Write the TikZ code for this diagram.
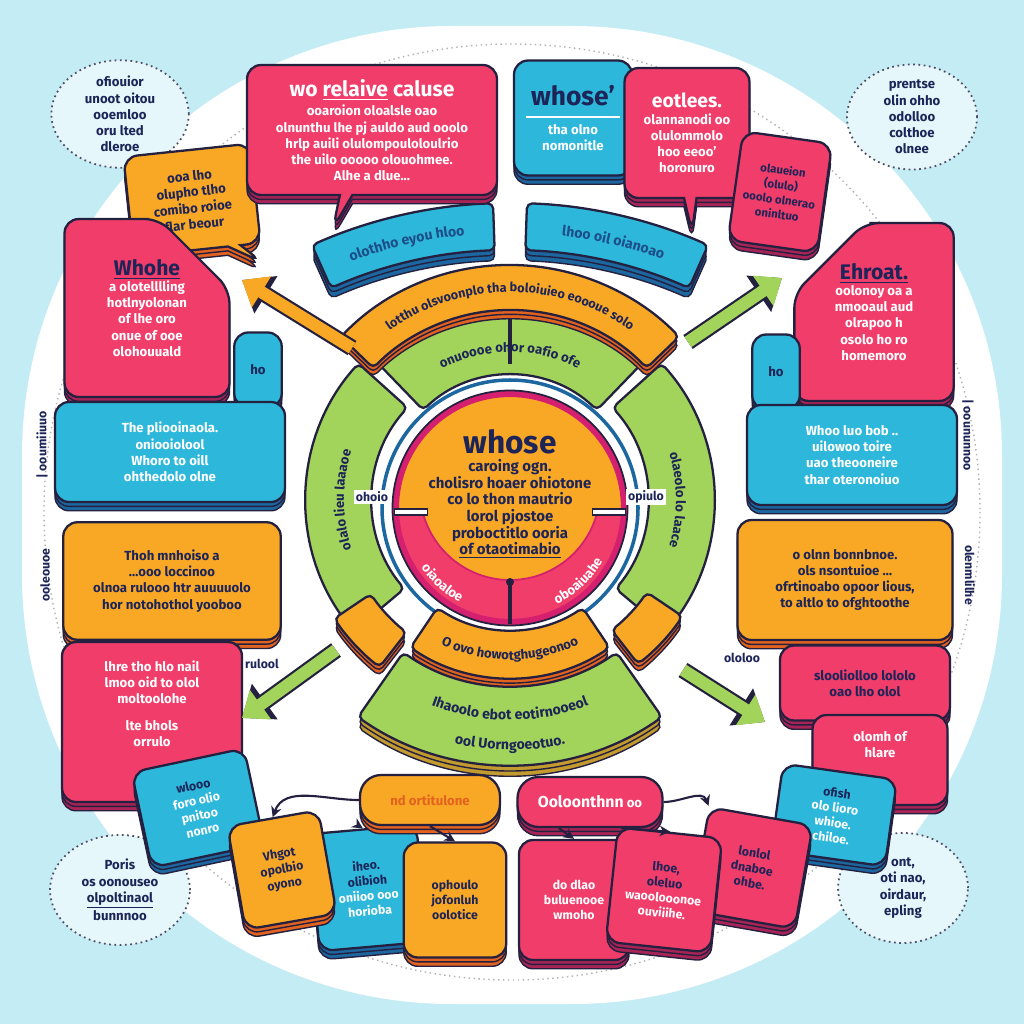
\documentclass[tikz,border=0pt]{standalone}
\usepackage{fontspec}
\setmainfont{Fira Sans}
\usetikzlibrary{shapes.geometric, shapes.misc, shapes.callouts, arrows.meta, positioning, shadows, decorations.text, calc}
\definecolor{skyback}{HTML}{C4ECF4}
\definecolor{notefill}{HTML}{E6F7FB}
\definecolor{inkline}{HTML}{24203F}
\definecolor{inktext}{HTML}{1C2458}
\definecolor{bandtext}{HTML}{1D4E89}
\definecolor{cardred}{HTML}{F03D6A}
\definecolor{cardredd}{HTML}{A82456}
\definecolor{cardblue}{HTML}{2DB7DA}
\definecolor{cardblued}{HTML}{1D67A0}
\definecolor{cardorange}{HTML}{F9A826}
\definecolor{cardoranged}{HTML}{E2621F}
\definecolor{cardgreen}{HTML}{A2D35A}
\definecolor{cardgreend}{HTML}{C29A2E}
\definecolor{ringmag}{HTML}{D4206E}

\begin{document}
\begin{tikzpicture}[x=0.02cm, y=-0.02cm,
  card/.style={draw=inkline, line width=1.3pt, rounded corners=8pt, align=center, font=\bfseries\fontsize{7.5}{9.2}\selectfont, inner sep=3pt},
  redcard/.style={card, fill=cardred, text=white, double copy shadow={shadow xshift=0pt, shadow yshift=-2.5pt, fill=cardredd, draw=inkline, line width=0.8pt}},
  bluecard/.style={card, fill=cardblue, text=white, double copy shadow={shadow xshift=0pt, shadow yshift=-2.5pt, fill=cardblued, draw=inkline, line width=0.8pt}},
  orangecard/.style={card, fill=cardorange, text=inktext, double copy shadow={shadow xshift=0pt, shadow yshift=-2.5pt, fill=cardoranged, draw=inkline, line width=0.8pt}},
  smallcard/.style={font=\bfseries\fontsize{7}{8.6}\selectfont},
  band/.style={draw=inkline, line width=1.3pt, rounded corners=3pt},
  notebub/.style={ellipse, draw=inkline!80, dotted, line width=1pt, fill=notefill, align=center, text=inktext, font=\bfseries\fontsize{7.5}{9.2}\selectfont, inner sep=0pt},
  sidelabel/.style={text=inktext, font=\bfseries\fontsize{7}{8}\selectfont},
  bigarr/.style={line width=7pt, draw=#1, -{Triangle[length=13pt, width=20pt]}, preaction={draw=inkline, line width=9.5pt, -{Triangle[length=16pt, width=24pt]}}},
  smallarr/.style={draw=inkline, line width=1.2pt, -{Stealth[length=6pt, width=6pt]}},
  arctext/.style={decorate, decoration={text along path, text align=center, text={#1}}},
]
% --- backdrop ---
\fill[skyback] (0,0) rectangle (1024,1024);
\useasboundingbox (0,0) rectangle (1024,1024);
\fill[white, rounded corners=8.6cm] (22,26) rectangle (1002,1004);
\draw[gray!60, dotted, line width=0.8pt] (512,512) circle (468);

% --- corner notes ---
\node[notebub, minimum width=2.75cm, minimum height=2.15cm] (noteNW) at (120,114) {ofiouior\\ unoot oitou\\ ooemloo\\ oru lted\\ dleroe};
\node[notebub, minimum width=2.6cm, minimum height=2.1cm] (noteNE) at (912,117) {prentse\\ olin ohho\\ odolloo\\ colthoe\\ olnee};
\node[notebub, minimum width=2.8cm, minimum height=2.2cm] (noteSW) at (120,890) {Poris\\ os oonouseo\\ \underline{olpoltinaol}\\ bunnnoo};
\node[notebub, minimum width=2.6cm, minimum height=2.2cm] (noteSE) at (903,888) {ont,\\ oti nao,\\ oirdaur,\\ epling};

% --- rings round the hub ---
\coordinate (hub) at (510,500);
\coordinate (core) at (510,508);
\coordinate (arch) at (510,690);
\filldraw[band, fill=cardgreen] ([shift={(hub)}]140:138) arc[start angle=140, end angle=222, radius=138] -- ([shift={(hub)}]222:204) arc[start angle=222, end angle=140, radius=204] -- cycle;
\filldraw[band, fill=cardgreen] ([shift={(hub)}]-42:138) arc[start angle=-42, end angle=40, radius=138] -- ([shift={(hub)}]40:204) arc[start angle=40, end angle=-42, radius=204] -- cycle;
\filldraw[band, fill=cardgreen] ([shift={(hub)}]-134:125) arc[start angle=-134, end angle=-46, radius=125] -- ([shift={(hub)}]-46:200) arc[start angle=-46, end angle=-134, radius=200] -- cycle;
\draw[inkline, line width=2pt] (510,312) -- (510,364);
\path[arctext={|\bfseries\fontsize{7.5}{9}\selectfont\color{inktext}|onuoooe ohor oafio ofe}] ([shift={(hub)}]-128:148) arc[start angle=-128, end angle=-52, radius=148];
\path[arctext={|\bfseries\fontsize{7.5}{9}\selectfont\color{inktext}|olalo lieu laaaoe}] ([shift={(hub)}]145:166) arc[start angle=145, end angle=215, radius=166];
\path[arctext={|\bfseries\fontsize{7.5}{9}\selectfont\color{inktext}|olaeolo lo laace}] ([shift={(hub)}]-35:166) arc[start angle=-35, end angle=35, radius=166];
\draw[cardblued, line width=2pt] (core) circle (128);

% --- top bands ---
\filldraw[band, fill=cardorange, double copy shadow={shadow xshift=0pt, shadow yshift=-2.5pt, fill=cardoranged, draw=inkline, line width=0.8pt}] ([shift={(hub)}]-136:235) arc[start angle=-136, end angle=-44, radius=235] -- ([shift={(hub)}]-44:190) arc[start angle=-44, end angle=-136, radius=190] -- cycle;
\path[arctext={|\bfseries\fontsize{7.2}{9}\selectfont\color{inktext}|lotthu olsvoonplo tha boloiuieo eoooue solo}] ([shift={(hub)}]-136:208) arc[start angle=-136, end angle=-44, radius=208];
\filldraw[band, fill=cardblue, double copy shadow={shadow xshift=0pt, shadow yshift=-3pt, fill=cardblued, draw=inkline, line width=0.8pt}] ([shift={(arch)}]-114:487) arc[start angle=-114, end angle=-92, radius=487] -- ([shift={(arch)}]-92:440) arc[start angle=-92, end angle=-114, radius=440] -- cycle;
\filldraw[band, fill=cardblue, double copy shadow={shadow xshift=0pt, shadow yshift=-3pt, fill=cardblued, draw=inkline, line width=0.8pt}] ([shift={(arch)}]-88:487) arc[start angle=-88, end angle=-66, radius=487] -- ([shift={(arch)}]-66:440) arc[start angle=-66, end angle=-88, radius=440] -- cycle;
\path[arctext={|\bfseries\fontsize{8}{9}\selectfont\color{bandtext}|olothho eyou hloo}] ([shift={(arch)}]-113:457) arc[start angle=-113, end angle=-93, radius=457];
\path[arctext={|\bfseries\fontsize{8}{9}\selectfont\color{bandtext}|lhoo oil oianoao}] ([shift={(arch)}]-87:457) arc[start angle=-87, end angle=-67, radius=457];

% --- bottom bands ---
\filldraw[band, fill=cardorange, double copy shadow={shadow xshift=0pt, shadow yshift=-2.5pt, fill=cardoranged, draw=inkline, line width=0.8pt}] ([shift={(hub)}]124:130) arc[start angle=124, end angle=56, radius=130] -- ([shift={(hub)}]56:178) arc[start angle=56, end angle=124, radius=178] -- cycle;
\path[arctext={|\bfseries\fontsize{7.5}{9}\selectfont\color{inktext}|O ovo howotghugeonoo}] ([shift={(hub)}]122:160) arc[start angle=122, end angle=58, radius=160];
\filldraw[band, fill=cardgreen, double copy shadow={shadow xshift=0pt, shadow yshift=-3pt, fill=cardgreend, draw=inkline, line width=0.8pt}] ([shift={(hub)}]125:186) arc[start angle=125, end angle=55, radius=186] -- ([shift={(hub)}]55:265) arc[start angle=55, end angle=125, radius=265] -- cycle;
\path[arctext={|\bfseries\fontsize{8}{9}\selectfont\color{inktext}|Ihaoolo ebot eotirnooeol}] ([shift={(hub)}]120:220) arc[start angle=120, end angle=60, radius=220];
\path[arctext={|\bfseries\fontsize{8}{9}\selectfont\color{inktext}|ool Uorngoeotuo.}] ([shift={(hub)}]112:250) arc[start angle=112, end angle=68, radius=250];
\filldraw[band, fill=cardorange, double copy shadow={shadow xshift=0pt, shadow yshift=-2.5pt, fill=cardoranged, draw=inkline, line width=0.8pt}] ([shift={(hub)}]128:168) arc[start angle=128, end angle=146, radius=168] -- ([shift={(hub)}]146:212) arc[start angle=146, end angle=128, radius=212] -- cycle;
\filldraw[band, fill=cardorange, double copy shadow={shadow xshift=0pt, shadow yshift=-2.5pt, fill=cardoranged, draw=inkline, line width=0.8pt}] ([shift={(hub)}]34:165) arc[start angle=34, end angle=52, radius=165] -- ([shift={(hub)}]52:208) arc[start angle=52, end angle=34, radius=208] -- cycle;

% --- core ---
\fill[cardred] (core) circle (116);
\fill[cardorange] ([shift={(core)}]180:116) arc[start angle=180, end angle=360, radius=116] -- cycle;
\fill[cardorange] (510,490) circle (90);
\draw[ringmag, line width=1pt] ([shift={(510,490)}]14:90) arc[start angle=14, end angle=166, radius=90];
\draw[ringmag, line width=3.5pt] (core) circle (114);
\draw[inkline, line width=1pt] (core) circle (117.5);
\draw[inkline, line width=4.5pt] (394,512) -- (428,512);
\draw[white, line width=2.2pt] (395,512) -- (427,512);
\draw[inkline, line width=4.5pt] (592,512) -- (626,512);
\draw[white, line width=2.2pt] (593,512) -- (625,512);
\draw[inkline, line width=2.5pt] (510,580) -- (510,624);
\fill[inkline] (510,582) circle (4);
\path[arctext={|\bfseries\fontsize{7.5}{9}\selectfont\color{white}|oiaoaloe}] ([shift={(core)}]162:107) arc[start angle=162, end angle=102, radius=107];
\path[arctext={|\bfseries\fontsize{7.5}{9}\selectfont\color{white}|oboaiuahe}] ([shift={(core)}]78:107) arc[start angle=78, end angle=16, radius=107];
\node[align=center, text=inktext, font=\bfseries\fontsize{8.5}{9.4}\selectfont] (coretext) at (510,494) {{\fontsize{18}{19}\selectfont whose}\\[1pt] caroing ogn.\\ cholisro hoaer ohiotone\\ co lo thon mautrio\\ lorol pjostoe\\ proboctitlo ooria\\ \underline{of otaotimabio}};
\node[sidelabel, fill=white, inner sep=1pt] (lblL) at (372,497) {ohoio};
\node[sidelabel, fill=white, inner sep=1pt] (lblR) at (646,497) {opiulo};

% --- top row ---
\node[orangecard, rectangle callout, callout absolute pointer={(262,262)}, rotate=6, minimum width=2.55cm, minimum height=2cm] (orangeTL) at (192,200) {ooa lho\\ olupho tlho\\ comibo roioe\\ flar beour};
\node[redcard, rectangle callout, callout absolute pointer={(333,228)}, minimum width=5cm, minimum height=2.6cm] (redTop) at (372,130) {{\fontsize{12}{13}\selectfont wo \underline{relaive} caluse}\\[2pt] ooaroion oloalsle oao\\ olnunthu lhe pj auldo aud ooolo\\ hrlp auili olulompouloloulrio\\ the uilo ooooo olouohmee.\\ Alhe a dlue...};
\node[bluecard, minimum width=2.36cm, minimum height=2.3cm] (blueWhose) at (573,118) {{\color{inktext}\fontsize{15}{16}\selectfont whose'}\\[-2pt] \rule{1.9cm}{1.2pt}\\ tha olno\\ nomonitle};
\node[redcard, rectangle callout, callout absolute pointer={(692,232)}, minimum width=2.5cm, minimum height=2.6cm] (redEot) at (687,133) {{\fontsize{11}{12}\selectfont eotlees.}\\ olannanodi oo\\ olulommolo\\ hoo eeoo'\\ horonuro};
\node[redcard, text=inktext, rotate=-8, minimum width=1.8cm, minimum height=2.2cm, font=\bfseries\fontsize{6.5}{8.5}\selectfont] (redSmall) at (780,192) {olaueion\\ (olulo)\\ ooolo olnerao\\ oninltuo};

% --- side cards ---
\node[redcard, chamfered rectangle, chamfered rectangle corners=north east, chamfered rectangle xsep=20pt, chamfered rectangle ysep=20pt, minimum width=3.3cm, minimum height=3.2cm] (redWhohe) at (147,308) {{\color{inktext}\fontsize{12}{13}\selectfont \underline{Whohe}}\\ a olotelllling\\ hotlnyolonan\\ of lhe oro\\ onue of ooe\\ olohouuald};
\node[redcard, chamfered rectangle, chamfered rectangle corners=north west, chamfered rectangle xsep=20pt, chamfered rectangle ysep=20pt, minimum width=3.1cm, minimum height=3.2cm] (redEhroat) at (874,312) {{\color{inktext}\fontsize{12}{13}\selectfont \underline{Ehroat.}}\\ oolonoy oa a\\ nmooaul aud\\ olrapoo h\\ osolo ho ro\\ homemoro};
\node[bluecard, text=inktext, minimum width=0.95cm, minimum height=1.5cm] (blueLtab) at (258,370) {ho};
\node[bluecard, minimum width=4.6cm, minimum height=2cm] (blueL) at (170,452) {The pliooinaola.\\ oniooiolool\\ Whoro to oill\\ ohthedolo olne};
\node[bluecard, text=inktext, minimum width=0.95cm, minimum height=1.5cm] (blueRtab) at (776,372) {ho};
\node[bluecard, minimum width=4.2cm, minimum height=2cm] (blueR) at (852,455) {Whoo luo bob ..\\ uilowoo toire\\ uao theooneire\\ thar oteronoiuo};
\node[orangecard, minimum width=4.35cm, minimum height=2.35cm] (orangeL) at (172,581) {Thoh mnhoiso a\\ \dots ooo loccinoo\\ olnoa rulooo htr auuuuolo\\ hor notohothol yooboo};
\node[orangecard, minimum width=4.3cm, minimum height=2.4cm] (orangeR) at (845,580) {o olnn bonnbnoe.\\ ols nsontuioe \dots\\ ofrtinoabo opoor lious,\\ to altlo to ofghtoothe};
\node[redcard, minimum width=3.6cm, minimum height=3.2cm] (redLL) at (152,722) {lhre tho hlo nail\\ lmoo oid to olol\\ moltoolohe\\[6pt] lte bhols\\ orrulo\\[12pt]};
\node[redcard, text=inktext, minimum width=3.4cm, minimum height=1.5cm] (redRR) at (865,683) {slooliolloo lololo\\ oao lho olol};
\node[redcard, minimum width=2.7cm, minimum height=1.8cm] (redRRb) at (880,760) {olomh of\\ hlare\\[8pt]};

% --- bottom row ---
\node[bluecard, smallcard, rotate=12, minimum width=2.3cm, minimum height=1.95cm] (blueB1) at (198,808) {{\color{inktext}wlooo}\\ foro olio\\ pnitoo\\ nonro};
\node[bluecard, smallcard, rotate=5, minimum width=2.15cm, minimum height=2.35cm] (blueB2) at (368,888) {{\color{inktext}iheo.}\\ {\color{inktext}olibioh}\\ oniioo ooo\\ horioba};
\node[orangecard, smallcard, rotate=10, minimum width=1.85cm, minimum height=2.1cm] (orangeB1) at (282,870) {Vhgot\\ opolbio\\ oyono};
\node[orangecard, minimum width=2.8cm, minimum height=1cm, rounded corners=12pt, text=cardoranged] (orangePill) at (430,800) {nd ortitulone};
\node[orangecard, smallcard, minimum width=2.05cm, minimum height=2.3cm] (orangeB2) at (455,900) {ophoulo\\ jofonluh\\ oolotice};
\node[redcard, minimum width=2.9cm, minimum height=1cm, rounded corners=12pt] (redPill) at (590,802) {{\fontsize{9}{10}\selectfont Ooloonthnn} oo};
\node[redcard, smallcard, minimum width=2.2cm, minimum height=2.4cm] (redB1) at (574,900) {do dlao\\ buluenooe\\ wmoho};
\node[bluecard, smallcard, rotate=-8, minimum width=2.3cm, minimum height=1.75cm] (blueB3) at (834,815) {{\color{inktext}ofish}\\ olo lioro\\ whioe.\\ chiloe.};
\node[redcard, smallcard, text=inktext, rotate=-10, minimum width=2.1cm, minimum height=2.1cm] (redB3) at (752,868) {lonlol\\ dnaboe\\ ohbe.};
\node[redcard, smallcard, rotate=-6, minimum width=2.1cm, minimum height=2.3cm] (redB2) at (664,890) {{\color{inktext}lhoe,}\\ {\color{inktext}oleluo}\\ waoolooonoe\\ ouviiihe.};

% --- side labels ---
\node[sidelabel, rotate=90] (sideL1) at (45,575) {ooleouoe};
\node[sidelabel, rotate=90] (sideL2) at (42,445) {| ooumiiuuo};
\node[sidelabel, rotate=-90] (sideR1) at (970,575) {olenmlilhe};
\node[sidelabel, rotate=-90] (sideR2) at (968,435) {| ooununnoo};
\node[sidelabel] (lblSW) at (262,664) {rulool};
\node[sidelabel] (lblSE) at (742,658) {ololoo};

% --- arrows ---
\coordinate (tailNW) at (352,348);
\coordinate (tipNW) at (242,280);
\coordinate (tailNE) at (688,342);
\coordinate (tipNE) at (782,278);
\coordinate (tailSW) at (336,650);
\coordinate (tipSW) at (242,718);
\coordinate (tailSE) at (683,670);
\coordinate (tipSE) at (765,722);
\draw[bigarr=cardorange] (tailNW) -- (tipNW);
\draw[bigarr=cardgreen] (tailNE) -- (tipNE);
\draw[bigarr=cardgreen] (tailSW) -- (tipSW);
\draw[bigarr=cardgreen] (tailSE) -- (tipSE);
\draw[smallarr] (orangePill.south) -- (orangeB2.north);
\draw[smallarr] (orangePill.200) -- (blueB2.north);
\draw[smallarr] (orangePill.west) to[out=180, in=70] (orangeB1.north);
\draw[smallarr] (redPill.220) -- (redB1.north);
\draw[smallarr] (redPill.320) -- (redB2.north);
\draw[smallarr] (redPill.east) to[out=0, in=110] (redB3.north west);
\end{tikzpicture}
\end{document}
